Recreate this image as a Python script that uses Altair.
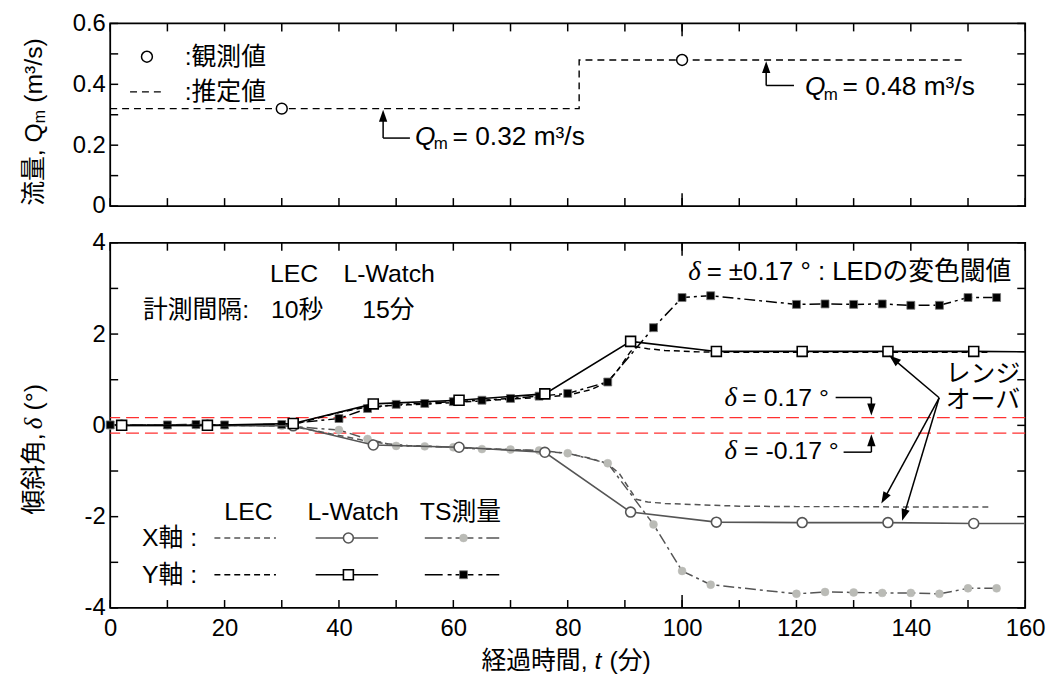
import altair as alt
import pandas as pd

# ---------------- data ----------------
time_ticks = list(range(0, 161, 10))
long_time_ticks = [100]
time_labels = list(range(0, 161, 20))
q_ticks = [0.0, 0.1, 0.2, 0.3, 0.4, 0.5, 0.6]
q_labels = [0.0, 0.2, 0.4, 0.6]
d_ticks = [-4, -3, -2, -1, 0, 1, 2, 3, 4]
d_labels = [-4, -2, 0, 2, 4]

# top panel: discharge
obs_t = [30, 100]
obs_q = [0.32, 0.48]
est_t = [0, 82, 149]
est_q = [0.32, 0.48, 0.48]

# thresholds
thresholds = [0.17, -0.17]

# LEC (10 s interval)
lec_t = [0, 10, 20, 30, 33, 36, 40, 44, 48, 52, 56, 60, 64, 68, 72, 76, 80, 84, 87, 89, 91, 92, 94, 97, 103, 110, 120, 130, 140, 154]
lec_x = [0, 0, 0, -0.01, -0.05, -0.12, -0.22, -0.32, -0.40, -0.44, -0.46, -0.48, -0.50, -0.52, -0.54, -0.56, -0.62, -0.72, -0.85, -1.05, -1.43, -1.62, -1.68, -1.71, -1.74, -1.77, -1.78, -1.78, -1.79, -1.79]
lec_y = [0, 0, 0, 0.01, 0.05, 0.15, 0.28, 0.38, 0.43, 0.45, 0.47, 0.50, 0.53, 0.56, 0.59, 0.62, 0.66, 0.78, 0.95, 1.25, 1.62, 1.72, 1.68, 1.64, 1.61, 1.60, 1.60, 1.60, 1.60, 1.60]

# L-Watch (15 min interval)
lw_t = [2, 17, 32, 46, 61, 76, 91, 106, 121, 136, 151]
lw_x = [0.0, 0.0, -0.01, -0.43, -0.48, -0.59, -1.90, -2.12, -2.13, -2.13, -2.15]
lw_y = [0.0, 0.0, 0.04, 0.47, 0.55, 0.69, 1.84, 1.62, 1.62, 1.62, 1.62]
lw_end_t = [160]
lw_end_x = [-2.15]
lw_end_y = [1.61]

# TS survey
ts_t = [0, 10, 15, 20, 30, 40, 45, 50, 55, 60, 65, 70, 75, 80, 87, 95, 100, 105, 120, 125, 130, 135, 140, 145, 150, 155]
ts_x = [0.0, 0.0, 0.0, 0.0, -0.01, -0.10, -0.30, -0.45, -0.46, -0.48, -0.52, -0.53, -0.55, -0.61, -0.83, -2.17, -3.19, -3.49, -3.69, -3.65, -3.66, -3.67, -3.67, -3.69, -3.57, -3.57]
ts_y = [0.01, 0.01, 0.02, 0.01, 0.02, 0.15, 0.37, 0.46, 0.48, 0.52, 0.55, 0.59, 0.64, 0.70, 0.95, 2.14, 2.80, 2.84, 2.65, 2.66, 2.65, 2.66, 2.63, 2.63, 2.80, 2.80]

# ---------------- styling ----------------
W, H1, H2 = 922, 184, 368
SANS = "Liberation Sans, Noto Sans CJK JP, sans-serif"
SERIF = "Liberation Serif, DejaVu Serif, serif"
FS = 24     # tick labels
TF = 25     # axis titles
AF = 25     # annotations
QF = 26.5   # Q annotations
GRAY = "#555555"
LGRAY = "#babbb6"
RED = "#ff3030"
ARROW = "M0,0L-0.35,1L0.35,1Z"   # tip at origin, pointing up

XS = alt.Scale(domain=[0, 160], nice=False, zero=False)
QS = alt.Scale(domain=[0, 0.6], nice=False, zero=False)
DS = alt.Scale(domain=[-4, 4], nice=False, zero=False)

COMMON_AX = dict(ticks=False, tickSize=0, domain=False, grid=False, labelFlush=False,
                 labelOverlap=False, labelFontSize=FS, labelFont=SANS, labelColor="black", title=None)
XAX_BOT = alt.Axis(values=time_labels, labelPadding=9, **COMMON_AX)
YAX_TOP = alt.Axis(values=q_labels, labelPadding=5,
                   labelExpr="datum.value == 0 ? '0' : format(datum.value, '.1f')", **COMMON_AX)
YAX_BOT = alt.Axis(values=d_labels, labelPadding=5,
                   labelExpr="datum.value < 0 ? '-' + abs(datum.value) : '' + datum.value", **COMMON_AX)

one = pd.DataFrame({"a": [0]})


def txt(x, y, s, size=AF, align="left", italic=False, font=SANS, angle=None, color="black"):
    kw = dict(text=s, fontSize=size, align=align, baseline="middle", font=font, color=color)
    if italic:
        kw["fontStyle"] = "italic"
    if angle is not None:
        kw["angle"] = angle
    return alt.Chart(one).mark_text(**kw).encode(x=alt.value(x), y=alt.value(y))


def seg(x1, y1, x2, y2, color="black", width=1.5, dash=None):
    kw = dict(color=color, strokeWidth=width)
    if dash:
        kw["strokeDash"] = dash
    return alt.Chart(one).mark_rule(**kw).encode(
        x=alt.value(x1), y=alt.value(y1), x2=alt.value(x2), y2=alt.value(y2))


def head(x, y, angle=0):
    kw = dict(shape=ARROW, size=576, filled=True, color="black", opacity=1, strokeWidth=0)
    if angle:
        kw["angle"] = angle
    return alt.Chart(one).mark_point(**kw).encode(x=alt.value(x), y=alt.value(y))


def sym(x, y, shape, size, fill, stroke, sw=1.5):
    return alt.Chart(one).mark_point(shape=shape, size=size, fill=fill, stroke=stroke,
                                      strokeWidth=sw, opacity=1, fillOpacity=1).encode(
        x=alt.value(x), y=alt.value(y))


def x_ticks(H, axis):
    out = []
    for vals, ln in ((time_ticks, 8), (long_time_ticks, 13)):
        b = alt.Chart(pd.DataFrame({"t": vals}))
        out.append(b.mark_rule(color="black", strokeWidth=1.5).encode(
            x=alt.X("t:Q", scale=XS, axis=axis), y=alt.value(H), y2=alt.value(H - ln)))
        out.append(b.mark_rule(color="black", strokeWidth=1.5).encode(
            x=alt.X("t:Q", scale=XS, axis=axis), y=alt.value(0), y2=alt.value(ln)))
    return out


def y_ticks(values, scale, axis):
    b = alt.Chart(pd.DataFrame({"v": values}))
    left = b.mark_rule(color="black", strokeWidth=1.5).encode(
        y=alt.Y("v:Q", scale=scale, axis=axis), x=alt.value(0), x2=alt.value(8))
    right = b.mark_rule(color="black", strokeWidth=1.5).encode(
        y=alt.Y("v:Q", scale=scale, axis=axis), x=alt.value(W), x2=alt.value(W - 8))
    return [left, right]


# ---------------- top panel ----------------
obs_df = pd.DataFrame({"t": obs_t, "q": obs_q})
est_df = pd.DataFrame({"t": est_t, "q": est_q})

TX = lambda: alt.X("t:Q", scale=XS, axis=None)
TY = lambda: alt.Y("q:Q", scale=QS, axis=YAX_TOP)

top_layers = []
top_layers += x_ticks(H1, None)
top_layers += y_ticks(q_ticks, QS, YAX_TOP)
top_layers.append(alt.Chart(est_df).mark_line(interpolate="step-after", color="black", strokeWidth=1.4,
                                              strokeDash=[7, 5]).encode(x=TX(), y=TY()))
top_layers.append(alt.Chart(obs_df).mark_point(shape="circle", size=120, fill="white", stroke="black",
                                               strokeWidth=1.5, opacity=1, fillOpacity=1).encode(
    x=TX(), y=TY()))
# legend
top_layers.append(sym(37, 33.5, "circle", 120, "white", "black"))
top_layers.append(txt(75, 33.5, ":観測値"))
top_layers.append(seg(20, 69, 54, 69, dash=[7, 5], width=1.4))
top_layers.append(txt(75, 69, ":推定値"))
# annotation 0.32
top_layers.append(seg(275, 115.5, 275, 96))
top_layers.append(seg(275, 115.5, 302, 115.5))
top_layers.append(head(275, 87))
top_layers.append(txt(307, 114, "Q", size=QF, italic=True))
top_layers.append(txt(326, 122, "m", size=17))
top_layers.append(txt(345, 114, "= 0.32 m³/s", size=QF))
# annotation 0.48
top_layers.append(seg(661, 62.5, 661, 46))
top_layers.append(seg(661, 62.5, 689, 62.5))
top_layers.append(head(661, 38))
top_layers.append(txt(700, 64, "Q", size=QF, italic=True))
top_layers.append(txt(719, 72, "m", size=17))
top_layers.append(txt(738, 64, "= 0.48 m³/s", size=QF))
# y title
top_layers.append(txt(-77, 100.5, "流量, Q", size=TF, align="right", angle=270))
top_layers.append(txt(-71, 100.5, "m", size=16, align="left", angle=270))
top_layers.append(txt(-77, 80, "(m³/s)", size=TF, align="left", angle=270))

top = alt.layer(*top_layers).properties(width=W, height=H1)

# ---------------- bottom panel ----------------
lec_df = pd.DataFrame({"t": lec_t, "x": lec_x, "y": lec_y})
lw_df = pd.DataFrame({"t": lw_t, "x": lw_x, "y": lw_y})
lw_line_df = pd.DataFrame({"t": lw_t + lw_end_t, "x": lw_x + lw_end_x, "y": lw_y + lw_end_y})
ts_df = pd.DataFrame({"t": ts_t, "x": ts_x, "y": ts_y})
th_df = pd.DataFrame({"d": thresholds})

X_ = lambda: alt.X("t:Q", scale=XS, axis=XAX_BOT)


def Yf(f):
    return alt.Y(f"{f}:Q", scale=DS, axis=YAX_BOT)


bl = []
bl += x_ticks(H2, XAX_BOT)
bl += y_ticks(d_ticks, DS, YAX_BOT)
bl.append(alt.Chart(th_df).mark_rule(color=RED, strokeWidth=1.4, strokeDash=[13, 6]).encode(y=Yf("d")))
# LEC
bl.append(alt.Chart(lec_df).mark_line(color=GRAY, strokeWidth=1.5, strokeDash=[6, 4]).encode(x=X_(), y=Yf("x")))
bl.append(alt.Chart(lec_df).mark_line(color="black", strokeWidth=1.5, strokeDash=[6, 4]).encode(x=X_(), y=Yf("y")))
# TS
TSD = [11, 4, 3, 4]
bl.append(alt.Chart(ts_df).mark_line(color=GRAY, strokeWidth=1.5, strokeDash=TSD).encode(x=X_(), y=Yf("x")))
bl.append(alt.Chart(ts_df).mark_line(color="black", strokeWidth=1.5, strokeDash=TSD).encode(x=X_(), y=Yf("y")))
bl.append(alt.Chart(ts_df).mark_point(shape="circle", size=64, fill=LGRAY, stroke=LGRAY, strokeWidth=0.5,
                                      opacity=1, fillOpacity=1).encode(x=X_(), y=Yf("x")))
bl.append(alt.Chart(ts_df).mark_point(shape="square", size=64, fill="black", stroke="#777777", strokeWidth=0.8,
                                      opacity=1, fillOpacity=1).encode(x=X_(), y=Yf("y")))
# L-Watch
bl.append(alt.Chart(lw_line_df).mark_line(color=GRAY, strokeWidth=1.6).encode(x=X_(), y=Yf("x")))
bl.append(alt.Chart(lw_line_df).mark_line(color="black", strokeWidth=1.6).encode(x=X_(), y=Yf("y")))
bl.append(alt.Chart(lw_df).mark_point(shape="circle", size=100, fill="white", stroke=GRAY, strokeWidth=1.6,
                                      opacity=1, fillOpacity=1).encode(x=X_(), y=Yf("x")))
bl.append(alt.Chart(lw_df).mark_point(shape="square", size=100, fill="white", stroke="black", strokeWidth=1.6,
                                      opacity=1, fillOpacity=1).encode(x=X_(), y=Yf("y")))

# annotations (upper left)
bl.append(txt(161, 31.5, "LEC"))
bl.append(txt(235, 31.5, "L-Watch"))
bl.append(txt(33, 67.5, "計測間隔:"))
bl.append(txt(162, 67.5, "10秒"))
bl.append(txt(254, 67.5, "15分"))
# threshold annotation
bl.append(txt(582.5, 29.5, "δ", italic=True, font=SERIF, size=27))
bl.append(txt(601, 29.5, "= ±0.17 ° : LEDの変色閾値", size=26))
bl.append(txt(619, 156.5, "δ", italic=True, font=SERIF, size=27))
bl.append(txt(637, 156.5, "= 0.17 °"))
bl.append(seg(731, 156, 767, 156))
bl.append(seg(767, 156, 767, 166))
bl.append(head(767, 174, 180))
bl.append(txt(619, 209.5, "δ", italic=True, font=SERIF, size=27))
bl.append(txt(638.7, 209.5, "= -0.17 °"))
bl.append(seg(739, 211, 767, 211))
bl.append(seg(767, 211, 767, 201))
bl.append(head(767, 193))
# range over
bl.append(txt(842, 132.5, "レンジ"))
bl.append(txt(842, 158.5, "オーバ"))
bl.append(seg(835.3, 156.2, 789, 117))
bl.append(head(785, 113.5, 310))
bl.append(seg(835.3, 156.2, 781, 256))
bl.append(head(777, 262.8, 209))
bl.append(seg(835.3, 156.2, 800, 274))
bl.append(head(798, 280.2, 197))
# legend
bl.append(txt(115, 271, "LEC"))
bl.append(txt(198.7, 271, "L-Watch"))
bl.append(txt(312, 271, "TS測量"))
bl.append(txt(32, 297.5, "X軸 :"))
bl.append(txt(32, 334.5, "Y軸 :"))
bl.append(seg(105, 297.5, 167, 297.5, color=GRAY, dash=[6, 4]))
bl.append(seg(105, 334.5, 167, 334.5, color="black", dash=[6, 4]))
bl.append(seg(207, 297.5, 270, 297.5, color=GRAY, width=1.6))
bl.append(sym(240, 297.5, "circle", 100, "white", GRAY, 1.6))
bl.append(seg(207, 334.5, 270, 334.5, color="black", width=1.6))
bl.append(sym(240, 334.5, "square", 100, "white", "black", 1.6))
bl.append(seg(317, 297.5, 392, 297.5, color=GRAY, dash=[18, 5, 4, 4]))
bl.append(sym(356, 297.5, "circle", 64, LGRAY, LGRAY, 0.5))
bl.append(seg(317, 334.5, 392, 334.5, color="black", dash=[18, 5, 4, 4]))
bl.append(sym(356, 334.5, "square", 64, "black", "#777777", 0.8))
# axis titles
bl.append(txt(481, 421.5, "経過時間,", size=TF, align="right"))
bl.append(txt(488, 421.5, "t", size=TF, italic=True))
bl.append(txt(503, 421.5, "(分)", size=TF))
bl.append(txt(-77, 192, "傾斜角,", size=TF, align="right", angle=270))
bl.append(txt(-77, 182, "δ", size=TF, italic=True, font=SERIF, align="center", angle=270))
bl.append(txt(-77, 169, "(°)", size=TF, align="left", angle=270))

bottom = alt.layer(*bl).properties(width=W, height=H2)

chart = alt.vconcat(top, bottom, spacing=37, bounds="flush").properties(
    padding={"left": 13, "top": 0, "right": 5, "bottom": 0},
    background="white",
).configure_view(stroke="black", strokeWidth=1.8).configure_axis(grid=False)

chart.save("out.html", embed_options={"renderer": "svg", "actions": False})
